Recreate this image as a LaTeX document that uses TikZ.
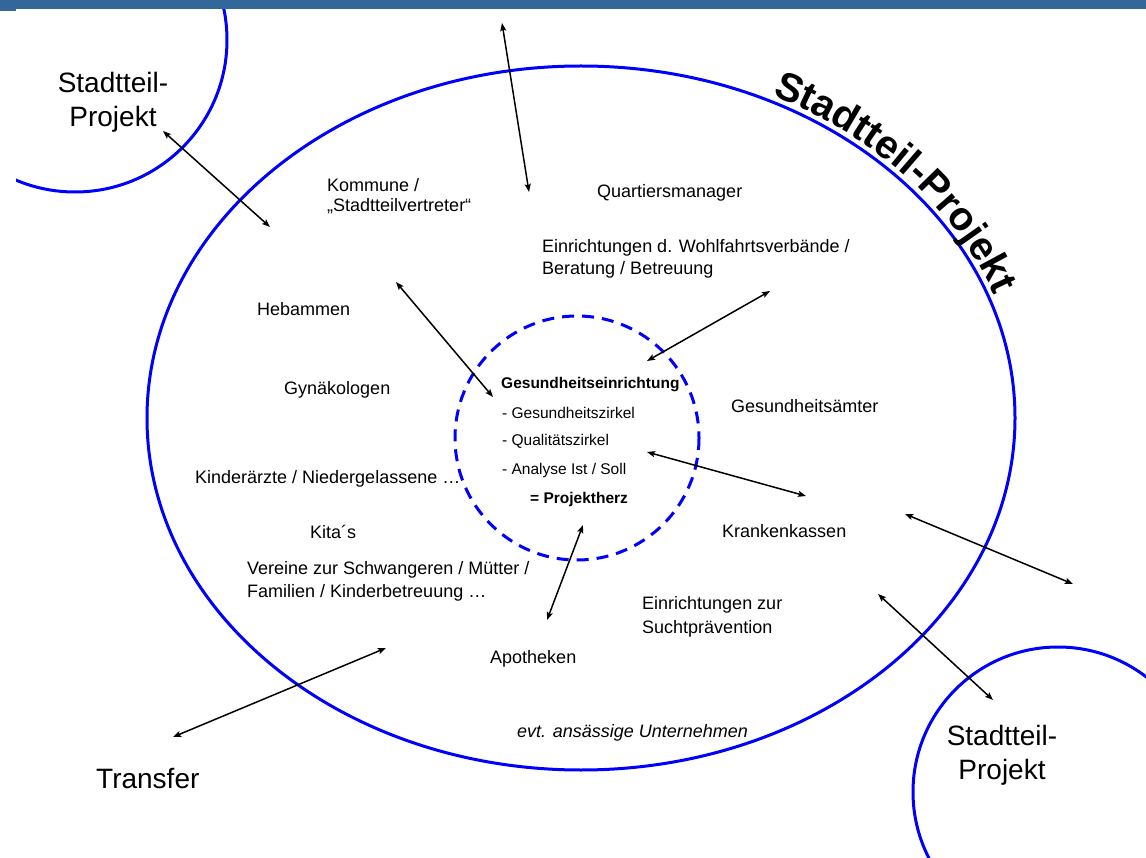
\documentclass[tikz,border=0pt]{standalone}
\usepackage{fontspec}
\setmainfont{Liberation Sans}
\usetikzlibrary{arrows.meta,decorations.text}
\definecolor{barblue}{RGB}{51,102,153}
\definecolor{ringblue}{RGB}{0,0,255}
\begin{document}
\begin{tikzpicture}[x=1pt,y=-1pt,
  ring/.style={draw=ringblue, line width=3pt},
  link/.style={line width=1.5pt, {Stealth[length=8pt,width=6pt,inset=1.5pt]}-{Stealth[length=8pt,width=6pt,inset=1.5pt]}},
  lbl/.style={inner sep=0pt, anchor=base west, align=left, font=\fontsize{18}{22}\selectfont},
  core/.style={inner sep=0pt, anchor=base west, font=\fontsize{15.5}{18}\selectfont},
  big/.style={inner sep=0pt, anchor=base, align=center, font=\fontsize{28}{34}\selectfont}]
\useasboundingbox (0,0) rectangle (1146,858);
\fill[white] (0,0) rectangle (1146,858);
\begin{scope}
  \clip (16,0) rectangle (1146,858);
  \draw[ring] (75,40) circle[radius=152];
  \draw[ring] (1058,792) circle[radius=145];
\end{scope}
\draw[ring] (581,418) ellipse[x radius=434, y radius=352];
\draw[ring, dash pattern=on 12pt off 8pt] (577,438) circle[radius=122];
\fill[barblue] (0,0) rectangle (1146,9);
\fill[barblue] (0,0) rectangle (16,11);

% curved title
\path[decorate, decoration={text along path, text align=center,
  text={|\fontsize{40}{42}\selectfont\bfseries|Stadtteil-Projekt}}]
  (581,418) ++(-66:440 and 358) arc[start angle=-66, end angle=-18, x radius=440, y radius=358];

% big labels (base = baseline of last line)
\node[big] (projTL) at (113,127) {Stadtteil-\\Projekt};
\node[big] (projBR) at (1002,779) {Stadtteil-\\Projekt};
\node[big, anchor=base west] (transfer) at (96,788) {Transfer};

% labels in the ellipse
\node[lbl, font=\fontsize{18}{20}\selectfont] (kommune) at (327,212) {Kommune /\\„Stadtteilvertreter“};
\node[lbl] (quartier) at (597,198) {Quartiersmanager};
\node[lbl] (wohlfahrt) at (542,275) {Einrichtungen d. Wohlfahrtsverbände /\\Beratung / Betreuung};
\node[lbl] (hebammen) at (257,316) {Hebammen};
\node[lbl] (gyn) at (284,395) {Gynäkologen};
\node[lbl] (kinder) at (195,483) {Kinderärzte / Niedergelassene …};
\node[lbl] (kita) at (310,538) {Kita´s};
\node[lbl, font=\fontsize{18}{23}\selectfont] (vereine) at (247,597) {Vereine zur Schwangeren / Mütter /\\Familien / Kinderbetreuung …};
\node[lbl] (apotheken) at (490,663) {Apotheken};
\node[lbl, font=\fontsize{18}{24}\selectfont] (sucht) at (642,633) {Einrichtungen zur\\Suchtprävention};
\node[lbl, font=\fontsize{18}{22}\itshape] (unternehmen) at (517,737) {evt. ansässige Unternehmen};
\node[lbl] (aemter) at (731,413) {Gesundheitsämter};
\node[lbl] (kassen) at (722,537) {Krankenkassen};

% core
\node[core, font=\fontsize{15.5}{18}\selectfont\bfseries] (ge) at (501,389) {Gesundheitseinrichtung};
\node[core] (gz) at (502,418) {- Gesundheitszirkel};
\node[core] (qz) at (502,446) {- Qualitätszirkel};
\node[core] (an) at (502,475) {- Analyse Ist / Soll};
\node[core, font=\fontsize{15.5}{18}\selectfont\bfseries] (ph) at (530,503) {= Projektherz};

% connector ends
\coordinate (a1s) at (163,131); \coordinate (a1e) at (270,227);
\coordinate (a2s) at (502,23);  \coordinate (a2e) at (529,192);
\coordinate (a3s) at (396,282); \coordinate (a3e) at (493,397);
\coordinate (a4s) at (770,291); \coordinate (a4e) at (647,361);
\coordinate (a5s) at (647,452); \coordinate (a5e) at (806,496);
\coordinate (a6s) at (905,514); \coordinate (a6e) at (1073,584);
\coordinate (a7s) at (878,594); \coordinate (a7e) at (993,700);
\coordinate (a8s) at (583,525); \coordinate (a8e) at (547,620);
\coordinate (a9s) at (173,737); \coordinate (a9e) at (386,648);

\draw[link] (a1s) -- (a1e);
\draw[link] (a2s) -- (a2e);
\draw[link] (a3s) -- (a3e);
\draw[link] (a4s) -- (a4e);
\draw[link] (a5s) -- (a5e);
\draw[link] (a6s) -- (a6e);
\draw[link] (a7s) -- (a7e);
\draw[link] (a8s) -- (a8e);
\draw[link] (a9s) -- (a9e);
\end{tikzpicture}
\end{document}
